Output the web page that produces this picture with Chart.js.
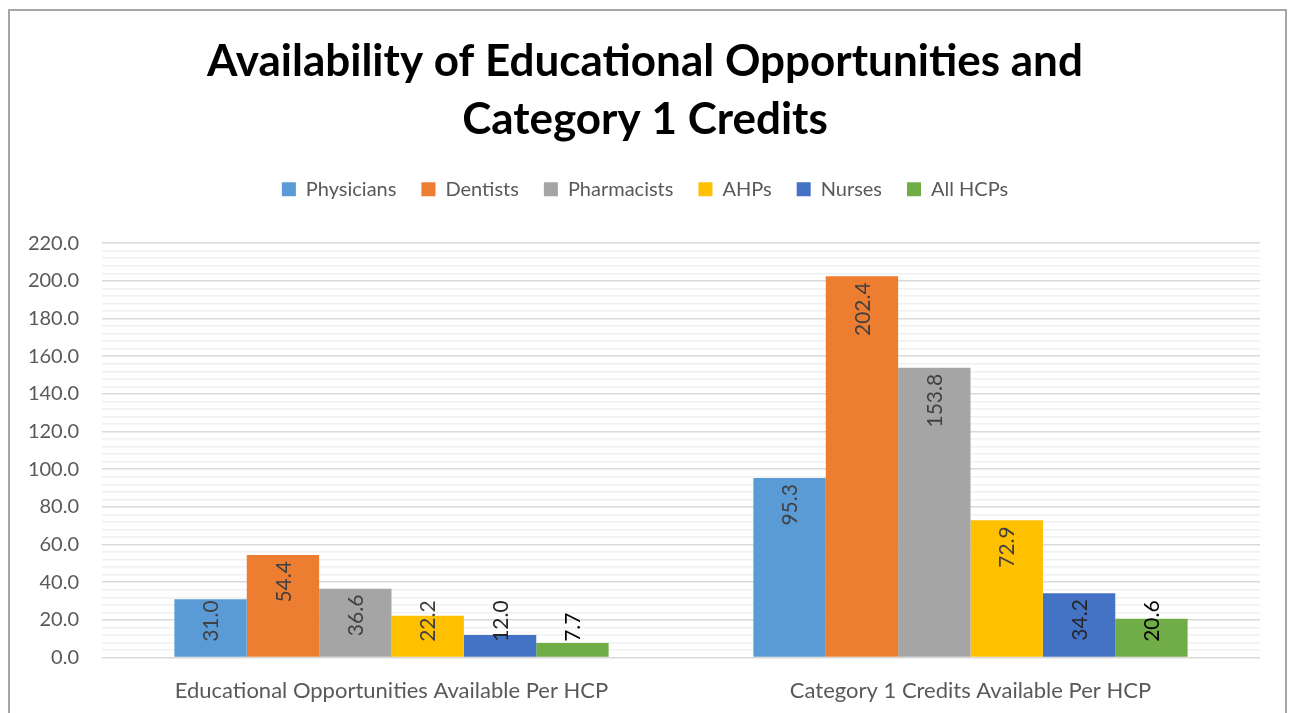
<!DOCTYPE html>
<html>
<head>
<meta charset="utf-8">
<script src="https://cdn.jsdelivr.net/npm/chart.js@4"></script>
<style>
  html, body { margin: 0; padding: 0; background: #fff; overflow: hidden; }
  #wrap { position: absolute; left: 0; top: 0; width: 1290px; height: 713px; }
  #frame { position: absolute; left: 8px; top: 9px; width: 1279px; height: 720px; border: 2px solid #a6a6a6; box-sizing: border-box; pointer-events: none; }
</style>
</head>
<body>
<div id="wrap">
  <canvas id="chart" width="1290" height="713"></canvas>
  <div id="frame"></div>
</div>
<script>
// Datos del gráfico
const categories = ['Educational Opportunities Available Per HCP', 'Category 1 Credits Available Per HCP'];
const seriesNames = ['Physicians', 'Dentists', 'Pharmacists', 'AHPs', 'Nurses', 'All HCPs'];
const physicians = [31.0, 95.3];
const dentists = [54.4, 202.4];
const pharmacists = [36.6, 153.8];
const ahps = [22.2, 72.9];
const nurses = [12.0, 34.2];
const allHcps = [7.7, 20.6];
const yTickLabels = [0, 20, 40, 60, 80, 100, 120, 140, 160, 180, 200, 220];

const seriesValues = [physicians, dentists, pharmacists, ahps, nurses, allHcps];
const colors = ['#5B9BD5', '#ED7D31', '#A5A5A5', '#FFC000', '#4472C4', '#70AD47'];
const labelColors = ['#404040', '#404040', '#404040', '#404040', '#262626', '#000000'];
const FONT = 'Lato, "Open Sans", sans-serif';

// Etiquetas de valor giradas dentro de las barras
const valueLabels = {
    id: 'valueLabels',
    afterDatasetsDraw(chart) {
        const c = chart.ctx;
        c.save();
        c.font = '21px ' + FONT;
        c.textBaseline = 'middle';
        chart.data.datasets.forEach((ds, i) => {
            const meta = chart.getDatasetMeta(i);
            meta.data.forEach((bar, j) => {
                const txt = ds.data[j].toFixed(1);
                const w = c.measureText(txt).width;
                let top = bar.y + 6;
                let bottom = top + w;
                if (bottom > bar.base - 15) {
                    bottom = bar.base - 15;
                    top = bottom - w;
                }
                c.save();
                c.translate(bar.x, bottom);
                c.rotate(-Math.PI / 2);
                c.fillStyle = labelColors[i];
                c.textAlign = 'left';
                c.fillText(txt, 0, 1);
                c.restore();
            });
        });
        c.restore();
    }
};

// Espacio extra bajo la leyenda
const legendGap = {
    id: 'legendGap',
    beforeInit(chart) {
        const fit = chart.legend.fit;
        chart.legend.fit = function () {
            fit.bind(chart.legend)();
            this.height += 34;
        };
    }
};

const ctx = document.getElementById('chart').getContext('2d');
new Chart(ctx, {
    type: 'bar',
    data: {
        labels: categories,
        datasets: seriesNames.map((name, i) => ({
            label: name,
            data: seriesValues[i],
            backgroundColor: colors[i],
            borderWidth: 0,
            categoryPercentage: 0.75,
            barPercentage: 1.0
        }))
    },
    options: {
        responsive: false,
        animation: false,
        layout: { padding: { left: 18, right: 18, top: 8, bottom: -11 } },
        plugins: {
            title: {
                display: true,
                text: ['Availability of Educational Opportunities and', 'Category 1 Credits'],
                color: '#000',
                font: { family: FONT, size: 44, weight: 'bold', lineHeight: 1.32 },
                padding: { top: 25, bottom: 5 }
            },
            legend: {
                position: 'top',
                labels: {
                    color: '#595959',
                    font: { family: FONT, size: 20 },
                    boxWidth: 14,
                    boxHeight: 14,
                    padding: 25
                }
            },
            tooltip: { enabled: false }
        },
        scales: {
            x: {
                grid: { display: false, drawTicks: false },
                border: { display: false },
                ticks: { color: '#595959', font: { family: FONT, size: 22 }, padding: 20 }
            },
            y: {
                min: 0,
                max: 220,
                border: { display: false },
                afterFit: axis => { axis.width = 84; },
                afterBuildTicks: axis => {
                    const t = [];
                    for (let v = 0; v <= 220; v += 4) t.push({ value: v });
                    axis.ticks = t;
                },
                ticks: {
                    autoSkip: false,
                    color: '#595959',
                    font: { family: FONT, size: 20 },
                    padding: 23,
                    callback: v => yTickLabels.includes(v) ? v.toFixed(1) : ''
                },
                grid: {
                    drawTicks: false,
                    lineWidth: 1.5,
                    color: c => yTickLabels.includes(c.tick.value) ? '#d9d9d9' : '#f0f0f0'
                }
            },
            // eje vacío a la derecha solo para reservar margen
            yRight: {
                position: 'right',
                grid: { display: false, drawTicks: false },
                border: { display: false },
                ticks: { display: false },
                afterFit: axis => { axis.width = 12; }
            }
        }
    },
    plugins: [valueLabels, legendGap]
});
</script>
</body>
</html>
